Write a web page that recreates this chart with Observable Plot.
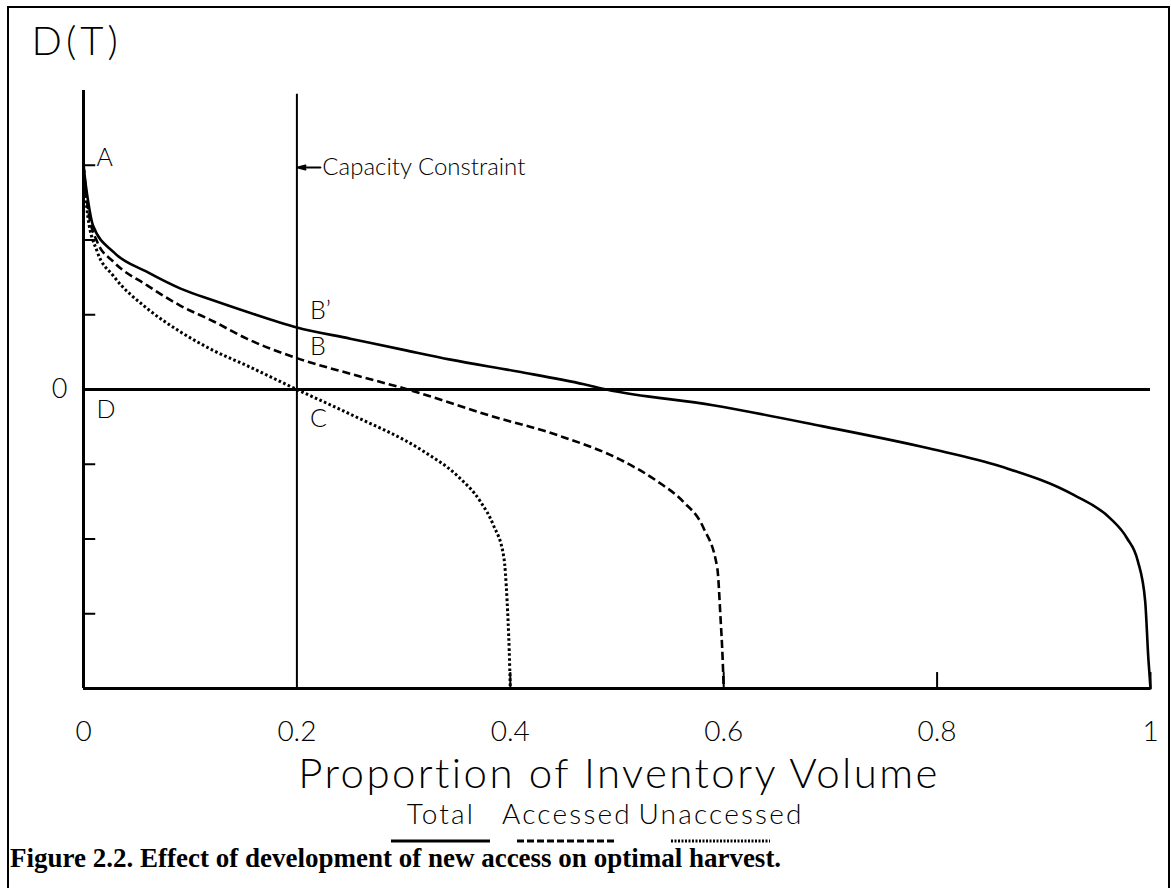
<!DOCTYPE html>
<html><head><meta charset="utf-8">
<script src="https://cdn.jsdelivr.net/npm/d3@7"></script>
<script src="https://cdn.jsdelivr.net/npm/@observablehq/plot@0.6"></script>
<style>
body{margin:0;background:#fff;width:1171px;height:888px;position:relative;overflow:hidden;font-family:Lato,"DejaVu Sans",sans-serif;}
#frame{position:absolute;left:7px;top:6px;width:1159px;height:900px;border:2.5px solid #000;border-bottom:none;pointer-events:none;}
#chart{position:absolute;left:0;top:0;}
#legend{position:absolute;left:0;top:794px;}
#caption{position:absolute;left:10px;top:843px;font-family:"Liberation Serif",serif;font-weight:bold;font-size:27px;color:#000;white-space:nowrap;}
</style></head>
<body>
<div id="chart"></div>
<div id="legend"></div>
<div id="caption">Figure 2.2. Effect of development of new access on optimal harvest.</div>
<div id="frame"></div>
<script>
// ---- data ----
const totalX = [0, 0.002, 0.004, 0.009, 0.028, 0.06, 0.091, 0.122, 0.153, 0.2, 0.25, 0.3, 0.344, 0.407, 0.469, 0.49, 0.59, 0.692, 0.793, 0.86, 0.928, 0.962, 0.978, 0.988, 0.995, 0.998, 1.0];
const totalY = [3.0, 2.75, 2.55, 2.19, 1.84, 1.57, 1.35, 1.19, 1.04, 0.83, 0.68, 0.53, 0.40, 0.24, 0.07, 0, -0.21, -0.49, -0.79, -1.03, -1.41, -1.72, -1.99, -2.29, -2.83, -3.6, -4];
const accX = [0, 0.002, 0.004, 0.013, 0.028, 0.06, 0.091, 0.122, 0.153, 0.2, 0.25, 0.304, 0.381, 0.444, 0.506, 0.538, 0.562, 0.581, 0.594, 0.597, 0.599, 0.6];
const accY = [3.0, 2.7, 2.44, 1.97, 1.71, 1.39, 1.12, 0.91, 0.68, 0.42, 0.21, 0, -0.35, -0.61, -0.96, -1.23, -1.5, -1.85, -2.39, -3.05, -3.6, -4];
const unX = [0, 0.002, 0.004, 0.013, 0.028, 0.06, 0.091, 0.122, 0.153, 0.2, 0.25, 0.319, 0.35, 0.372, 0.384, 0.394, 0.397, 0.399, 0.4];
const unY = [3.0, 2.6, 2.32, 1.84, 1.52, 1.08, 0.77, 0.52, 0.32, 0, -0.33, -0.83, -1.15, -1.5, -1.81, -2.25, -2.83, -3.5, -4];
const seriesNames = ["Total", "Accessed", "Unaccessed"];
const xTicks = [0, 0.2, 0.4, 0.6, 0.8, 1];
const xTickMarks = [0.4, 0.6, 0.8, 1];
const yTicks = [-3, -2, -1, 1, 2, 3];
const yLabelTicks = [0];
const capacityX = 0.2;
const pointLabels = [
  {name: "A", x: 0, y: 3.1},
  {name: "B\u2019", x: 0.2, y: 1.05},
  {name: "B", x: 0.2, y: 0.57},
  {name: "C", x: 0.2, y: -0.39},
  {name: "D", x: 0, y: -0.28}
];
const yTitle = "D(T)";
const xTitle = "Proportion of Inventory Volume";
const capacityLabel = "Capacity Constraint";
const capacityLabelY = 2.97;

const toRows = (xs, ys) => xs.map((x, i) => ({x, y: ys[i]}));
const total = toRows(totalX, totalY);
const accessed = toRows(accX, accY);
const unaccessed = toRows(unX, unY);

const FONT = "Lato, 'DejaVu Sans', sans-serif";
const W = 1171, H = 794;
const chart = Plot.plot({
  width: W, height: H,
  marginLeft: 83, marginRight: 21, marginTop: 90, marginBottom: 106,
  x: {domain: [0, 1], axis: null},
  y: {domain: [-4, 4], axis: null},
  style: {fontFamily: FONT, fontWeight: 300, color: "#000", background: "#fff", overflow: "visible"},
  marks: [
    // axes lines
    Plot.ruleX([0], {y1: -4, y2: 4, stroke: "#000", strokeWidth: 3}),
    Plot.ruleY([-4], {x1: 0, x2: 1, stroke: "#000", strokeWidth: 3}),
    Plot.ruleY([0], {x1: 0, x2: 1, stroke: "#000", strokeWidth: 3}),
    // capacity constraint
    Plot.ruleX([capacityX], {y1: -4, y2: 3.95, stroke: "#000", strokeWidth: 2}),
    // inward ticks
    Plot.link(yTicks, {x1: 0, x2: 0.011, y1: d => d, y2: d => d, stroke: "#000", strokeWidth: 2}),
    Plot.link(xTickMarks, {x1: d => d, x2: d => d, y1: -4, y2: -3.78, stroke: "#000", strokeWidth: 2}),
    // curves
    Plot.line(total, {x: "x", y: "y", stroke: "#000", strokeWidth: 2.6, curve: "monotone-x"}),
    Plot.line(accessed, {x: "x", y: "y", stroke: "#000", strokeWidth: 2.6, strokeDasharray: "8,4", strokeLinecap: "butt", curve: "monotone-x"}),
    Plot.line(unaccessed, {x: "x", y: "y", stroke: "#000", strokeWidth: 3, strokeDasharray: "2.6,2.4", strokeLinecap: "butt", curve: "monotone-x"}),
    // capacity arrow and label
    Plot.arrow([capacityLabelY], {x1: 0.222, x2: capacityX, y1: d => d, y2: d => d, stroke: "#000", strokeWidth: 2, headLength: 14, headAngle: 30, insetEnd: 1}),
    Plot.text([capacityLabel], {x: 0.222, y: capacityLabelY, dx: 2, text: d => d, textAnchor: "start", fontSize: 24, fill: "#000"}),
    // point labels
    Plot.text(pointLabels, {x: "x", y: "y", text: "name", dx: 13, textAnchor: "start", fontSize: 25, fill: "#000"}),
    // axis labels
    Plot.axisX(xTicks, {tickSize: 0, tickPadding: 33, fontSize: 28, fill: "#000", label: null, tickFormat: d => String(d)}),
    Plot.axisY(yLabelTicks, {tickSize: 0, tickPadding: 16, fontSize: 27, fill: "#000", label: null, tickFormat: d => String(d)}),
    Plot.text([xTitle], {frameAnchor: "bottom", dy: 99, dx: 2, text: d => d, fontSize: 42, fill: "#000"}),
    Plot.text([yTitle], {frameAnchor: "top-left", dx: -52, dy: -64, text: d => d, textAnchor: "start", fontSize: 40, fill: "#000"})
  ]
});
// widen the lettering of the two titles (style only)
d3.select(chart).selectAll("text").each(function() {
  const t = this.textContent;
  if (t === xTitle) this.style.letterSpacing = "2.4px";
  if (t === yTitle) this.style.letterSpacing = "4px";
});
document.getElementById("chart").appendChild(chart);

// legend below the chart
const legendPos = [441, 567, 721];
const legendDash = [null, "7,3", "2,1.5"];
const lg = d3.select("#legend").append("svg").attr("width", W).attr("height", 54);
seriesNames.forEach((name, i) => {
  lg.append("text").attr("x", legendPos[i]).attr("y", 30).attr("text-anchor", "middle")
    .attr("font-family", FONT).attr("font-weight", 300).attr("font-size", 28)
    .style("letter-spacing", "2.2px").text(name);
  lg.append("line").attr("x1", legendPos[i] - 50).attr("x2", legendPos[i] + 49)
    .attr("y1", 47).attr("y2", 47).attr("stroke", "#000").attr("stroke-width", 3)
    .attr("stroke-dasharray", legendDash[i]);
});
</script>
</body></html>
